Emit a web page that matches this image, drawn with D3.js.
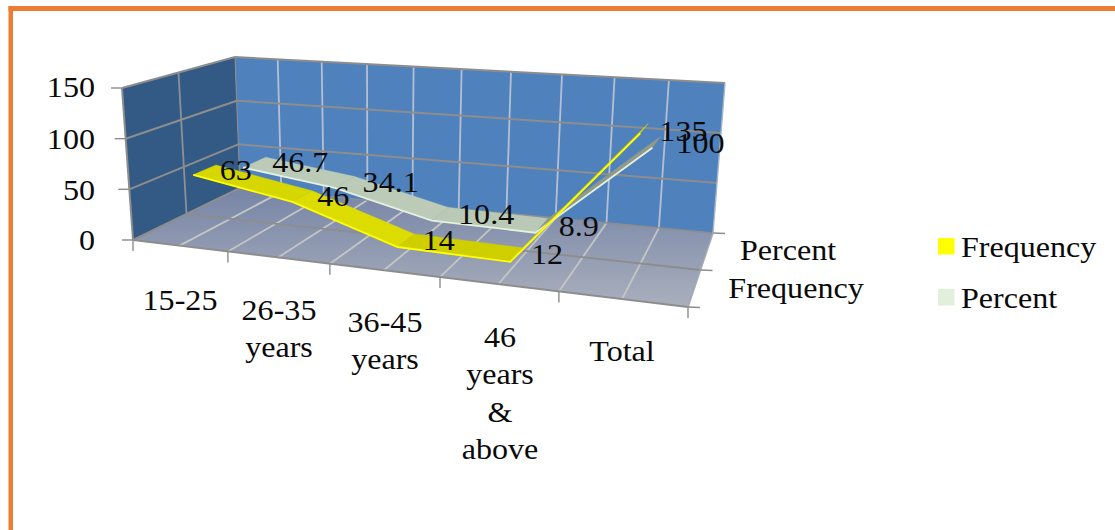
<!DOCTYPE html>
<html><head><meta charset="utf-8">
<script src="https://cdn.jsdelivr.net/npm/d3@7"></script>
<style>html,body{margin:0;padding:0;background:#fff}svg{display:block}text{font-family:"Liberation Serif","Times New Roman",serif;fill:#0a0a0a}</style>
</head><body><svg id="c" width="1115" height="530"></svg>
<script>
const categories = ["15-25","26-35 years","36-45 years","46 years & above","Total"];
const seriesNames = ["Frequency","Percent"];
const frequency = [63,46,14,12,135];
const percent = [46.7,34.1,10.4,8.9,100];
const valueTicks = [0,50,100,150];
const seriesColor = {Frequency:"#ffff00",Percent:"#e2efda"};

const svg = d3.select("#c");
const W=1115,H=530;
const defs = svg.append("defs");
const fg = defs.append("linearGradient").attr("id","floor").attr("x1",0).attr("y1",0).attr("x2",0).attr("y2",1);
fg.append("stop").attr("offset","0").attr("stop-color","#7684a6");
fg.append("stop").attr("offset","1").attr("stop-color","#a9afbc");
defs.append("filter").attr("id","soft").append("feGaussianBlur").attr("stdDeviation",0.45);

// box corners on the page
const C = {fl0:[133,240],fr0:[688,307],bl0:[240,188],br0:[713,233],
           fl1:[122,88], fr1:[701,126],bl1:[235,57], br1:[725,83]};
const lerp=(a,b,t)=>[a[0]+(b[0]-a[0])*t,a[1]+(b[1]-a[1])*t];
const persp=(u,d)=>{const b=0.175-0.035*d;return (1-b)*u/(1-b*u);};
function project(u,d,v){
  const bot=lerp(lerp(C.fl0,C.fr0,persp(u,0)),lerp(C.bl0,C.br0,persp(u,1)),d);
  const top=lerp(lerp(C.fl1,C.fr1,persp(u,0)),lerp(C.bl1,C.br1,persp(u,1)),d);
  return lerp(bot,top,v);
}
const xBand=d3.scaleBand().domain(categories).range([0,1]);
const dBand=d3.scaleBand().domain(seriesNames).range([0,1]);
const yS=d3.scaleLinear().domain([0,150]).range([0,1]);
const uC=c=>xBand(c)+xBand.bandwidth()/2;
const dC=s=>dBand(s)+dBand.bandwidth()/2;
const poly=pts=>"M"+pts.map(p=>p[0].toFixed(1)+","+p[1].toFixed(1)).join("L")+"Z";
const line=pts=>"M"+pts.map(p=>p[0].toFixed(1)+","+p[1].toFixed(1)).join("L");

// frame
const frame=svg.append("g").attr("fill","#ed7d31").attr("filter","url(#soft)");
frame.append("rect").attr("x",8.5).attr("y",6).attr("width",W).attr("height",5);
frame.append("rect").attr("x",8.5).attr("y",6).attr("width",4.5).attr("height",H);

const plot=svg.append("g").attr("filter","url(#soft)");
// walls
plot.append("path").attr("d",poly([C.bl0,C.br0,C.br1,C.bl1])).attr("fill","#4f81bd");
plot.append("path").attr("d",poly([C.fl0,C.bl0,C.bl1,C.fl1])).attr("fill","#335a85");
plot.append("path").attr("d",poly([C.fl0,C.fr0,C.br0,C.bl0])).attr("fill","url(#floor)");

const xGrid=d3.range(0,11).map(i=>i/10);
const seg=(a,b,col,w=1.8)=>plot.append("path").attr("d",line([a,b])).attr("stroke",col).attr("stroke-width",w).attr("fill","none");
// back wall verticals + floor depth lines
xGrid.slice(1,10).forEach(u=>{
  seg(project(u,1,0),project(u,1,1),"#b4c0d2");
  seg(project(u,0,0),project(u,1,0),"#c4c6c4");
});
seg(project(0,.5,0),project(0,.5,1),"#8c9097");
// horizontal grid on the walls
valueTicks.slice(1).forEach(t=>{
  const v=yS(t);
  const col="#8d8d8d";
  if(t<150){seg(project(0,0,v),project(0,1,v),col,2);seg(project(0,1,v),project(1,1,v),col,2);}
});
seg(project(0,.5,0),project(1,.5,0),"#8d8d8d");
// box edges
[[C.fl1,C.bl1],[C.bl1,C.br1],[C.fl1,C.fl0],[C.fl0,C.fr0],[C.bl0,C.fl0]].forEach(e=>seg(e[0],e[1],"#8d8d8d",2));
seg(C.bl1,C.bl0,"#8d8d8d",1);
seg(C.br0,C.bl0,"#8d8d8d",1.4);
seg(C.br1,C.br0,"#a7b6cb",1.4);
seg(C.br0,C.fr0,"#a3a8b4",1.6);
// ticks
valueTicks.forEach(t=>{const p=project(0,0,yS(t));seg(p,[p[0]-11,p[1]],"#8d8d8d",1.4);});
d3.range(0,6).map(i=>i/5).forEach(u=>{const p=project(u,0,0);seg(p,[p[0],p[1]+11],"#8d8d8d",1.4);});
[0,.5,1].forEach(d=>{const p=project(1,d,0);seg(p,[p[0]+12,p[1]+.5],"#8d8d8d",1.4);});

// ribbons
const half=0.11;
function ribbon(name,vals,fills,edge,du){
  const d=dC(name);
  const us=categories.map(c=>uC(c)+du);
  const f=vals.map((v,i)=>project(us[i],d-half,yS(v)));
  const b=vals.map((v,i)=>project(us[i],d+half,yS(v)));
  for(let i=0;i<vals.length-1;i++){
    plot.append("path").attr("d",poly([f[i],f[i+1],b[i+1],b[i]])).attr("fill",fills[i]).attr("stroke",fills[i]).attr("stroke-width",.4);
  }
  plot.append("path").attr("d",line(f)).attr("fill","none").attr("stroke",edge).attr("stroke-width",1.8);
}
ribbon("Percent",percent,["#bccbb8","#bccbb8","#b9c9b5","#8f9a88"],"#e4f0de",0);
ribbon("Frequency",frequency,["#d6d600","#dcdc00","#cfcf00","#d8d800"],"#ffff00",0.006);

// text
const fs=30, sx=1.07;
function T(x,y,s,anchor){
  return svg.append("text").attr("transform",`translate(${x},${y}) scale(${sx},1)`).attr("text-anchor",anchor||"middle").attr("font-size",fs).text(s);
}
valueTicks.forEach((t,i)=>{T(95,[250,200,149,97][i],t,"end");});
// data labels sit to the right of their ribbon, with hand nudges for the crowded ones
const nudge={"Frequency4":[9,3],"Frequency2":[2,0],"Percent3":[-9,0],"Percent4":[-2,1]};
[["Frequency",frequency,34,10],["Percent",percent,46,10]].forEach(([n,vals,dx,dy])=>{
  vals.forEach((v,i)=>{
    const p=project(uC(categories[i]),dC(n),yS(v));
    const k=nudge[n+i]||[0,0];
    T(p[0]+dx+k[0],p[1]+dy+k[1],v);
  });
});
// category labels
const catLabelY=[310,320,332,347,361];
const catX=[180,279,385,500,622];
categories.forEach((c,i)=>{
  const words = c==="Total"||i===0?[c]:(c.split(" "));
  words.forEach((w,k)=>T(catX[i],catLabelY[i]+k*37.3,w));
});
T(788,260,"Percent");
T(796,298,"Frequency");
// legend
seriesNames.forEach((n,i)=>{
  const y=[238,289][i];
  svg.append("rect").attr("x",938).attr("y",y).attr("width",16.5).attr("height",16.5).attr("fill",seriesColor[n]);
  T(961,y+19,n,"start");
});
</script></body></html>
